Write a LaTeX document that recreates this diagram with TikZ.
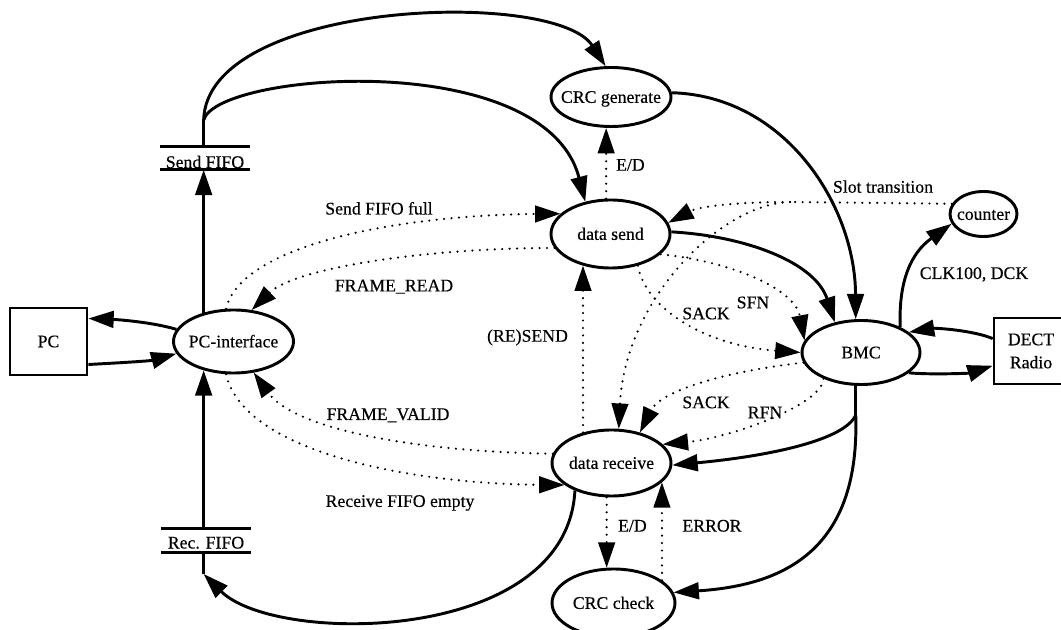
\documentclass[tikz,border=0pt]{standalone}
\usepackage{fontspec}
\setmainfont{Liberation Serif}
\newfontfamily\labelfont{Liberation Serif}[FakeBold=0.4]
\usetikzlibrary{arrows.meta,shapes.geometric}

\begin{document}
\begin{tikzpicture}[x=0.75pt,y=-0.75pt,
  every node/.style={font=\labelfont\fontsize{13.3}{17.3}\selectfont},
  proc/.style={ellipse, draw, line width=2.2pt, inner sep=0pt,
               text height=8.8pt, text depth=0pt},
  ext/.style={rectangle, draw, line width=2pt, inner sep=0pt},
  store/.style={rectangle, inner sep=0pt, minimum width=67.5pt, text depth=0pt},
  plain/.style={line width=2pt},
  flow/.style={line width=2.2pt, -{Triangle[length=19pt,width=12.5pt]}},
  ctrl/.style={line width=1.8pt, line cap=round, dash pattern=on 0pt off 5.6pt,
               -{Triangle[length=19pt,width=12.5pt]}},
  lbl/.style={anchor=base, inner sep=0pt},
]
\useasboundingbox (0,0) rectangle (1061,630);
\clip (0,0) rectangle (1061,630);

% external entities
\node[ext, minimum width=57.75pt, minimum height=50.25pt] (pc) at (48.5,341.5) {PC};
\node[ext, minimum width=55.5pt, minimum height=49.5pt, align=center] (dect) at (1031,351) {DECT\\Radio};

% processes
\node[proc, minimum width=90pt, minimum height=47.25pt] (pcif) at (233.5,341.5) {\makebox[0pt]{PC-interface}};
\node[proc, minimum width=90pt, minimum height=44.25pt] (crcgen) at (611,97) {\makebox[0pt]{CRC generate}};
\node[proc, minimum width=89.25pt, minimum height=51pt] (dsend) at (610.5,234) {\makebox[0pt]{data send}};
\node[proc, minimum width=50.25pt, minimum height=33.75pt] (counter) at (983.5,214) {\makebox[0pt]{counter}};
\node[proc, minimum width=88.5pt, minimum height=48pt] (bmc) at (861,352.5) {\makebox[0pt]{BMC}};
\node[proc, minimum width=89.25pt, minimum height=49.5pt] (drecv) at (611.5,463) {\makebox[0pt]{data receive}};
\node[proc, minimum width=92.25pt, minimum height=51pt] (crcchk) at (613.5,603) {\makebox[0pt]{CRC check}};

% data stores
\node[store, minimum height=16.9pt, text height=14.6pt] (sfifo) at (205,158.25) {Send FIFO};
\node[store, minimum height=17.6pt, text height=12.4pt] (rfifo) at (206,540.25) {Rec. FIFO};
\draw[plain] (sfifo.north west) -- (sfifo.north east) (sfifo.south west) -- (sfifo.south east);
\draw[plain] (rfifo.north west) -- (rfifo.north east) (rfifo.south west) -- (rfifo.south east);

% branch points
\coordinate (J) at (pcif.136 |- 0,120);
\coordinate (M) at (pcif.-136 |- 0,574);
\coordinate (K) at (790,202);
\coordinate (L) at (bmc.-99 |- 0,415);

% data flows
\draw[flow] (pcif.168) .. controls (152,322) and (116,319.5) .. (pc.30);
\draw[flow] (pc.-30) .. controls (117,363) and (150,361) .. (pcif.-168);
\draw[flow] (pcif.136) -- (pcif.136 |- sfifo.south);
\draw[plain] (pcif.136 |- sfifo.north) -- (J);
\draw[flow] (J) .. controls (207,0) and (555,-12) .. (crcgen.100);
\draw[flow] (J) .. controls (217,72) and (545,47) .. (dsend.128);
\draw[flow] (pcif.-136 |- rfifo.north) -- (pcif.-136);
\draw[plain] (pcif.-136 |- rfifo.south) -- (M);
\draw[flow] (drecv.-143) .. controls (567,645) and (275,645) .. (M);
\draw[flow] (crcgen.4) .. controls (785,96) and (855,205) .. (bmc.99);
\draw[flow] (dsend.2) .. controls (745,236) and (815,262) .. (bmc.131);
\draw[plain] (bmc.-99) -- (L);
\draw[flow] (L) .. controls (845,440) and (770,456) .. (drecv.-2);
\draw[flow] (L) .. controls (860,545) and (790,585) .. (crcchk.10);
\draw[flow] (bmc.33) .. controls (898,270) and (918,248) .. (counter.-163);
\draw[flow] (dect.162) .. controls (972,330) and (935,328) .. (bmc.23);
\draw[flow] (bmc.-23) .. controls (935,375) and (970,373) .. (dect.-159);

% control flows
\draw[ctrl] (pcif.103) .. controls (242,243) and (405,215) .. (dsend.158);
\draw[ctrl] (dsend.-166) .. controls (425,248) and (295,268) .. (pcif.60);
\draw[ctrl] (drecv.171) .. controls (420,452) and (295,430) .. (pcif.-57);
\draw[ctrl] (pcif.-103) .. controls (245,455) and (420,484) .. (drecv.-155);
\draw[ctrl] (dsend.97) -- (dsend.97 |- crcgen.south);
\draw[ctrl] (drecv.133) -- (dsend.-131);
\draw[ctrl] (drecv.-98) -- (crcchk.101);
\draw[ctrl] (crcchk.25) -- (drecv.-21);
\draw[ctrl, -] (counter.162) -- (K);
\draw[ctrl] (K) .. controls (740,202) and (700,206) .. (dsend.11);
\draw[ctrl] (K) .. controls (720,204) and (625,300) .. (drecv.78);
\draw[ctrl] (dsend.-22) .. controls (735,262) and (795,290) .. (bmc.168);
\draw[ctrl] (dsend.-49) .. controls (644,305) and (700,345) .. (bmc.180);
\draw[ctrl] (bmc.-170) .. controls (720,372) and (660,392) .. (drecv.47);
\draw[ctrl] (bmc.-145) .. controls (822,405) and (730,438) .. (drecv.20);

% flow labels
\node[lbl] (l1) at (379,214.5) {Send FIFO full};
\node[lbl] (l2) at (394,291.4) {FRAME\_READ};
\node[lbl] (l3) at (883,192.7) {Slot transition};
\node[lbl] (l4) at (630.4,170.7) {E/D};
\node[lbl] (l5) at (974,279) {CLK100, DCK};
\node[lbl] (l6) at (753,308.3) {SFN};
\node[lbl] (l7) at (706,319.3) {SACK};
\node[lbl] (l8) at (527.5,341.7) {(RE)SEND};
\node[lbl] (l9) at (706,408.2) {SACK};
\node[lbl] (l10) at (765,418.3) {RFN};
\node[lbl] (l11) at (388,420) {FRAME\_VALID};
\node[lbl] (l12) at (400,506.9) {Receive FIFO empty};
\node[lbl] (l13) at (632.4,531.6) {E/D};
\node[lbl] (l14) at (712,531.6) {ERROR};
\end{tikzpicture}
\end{document}
